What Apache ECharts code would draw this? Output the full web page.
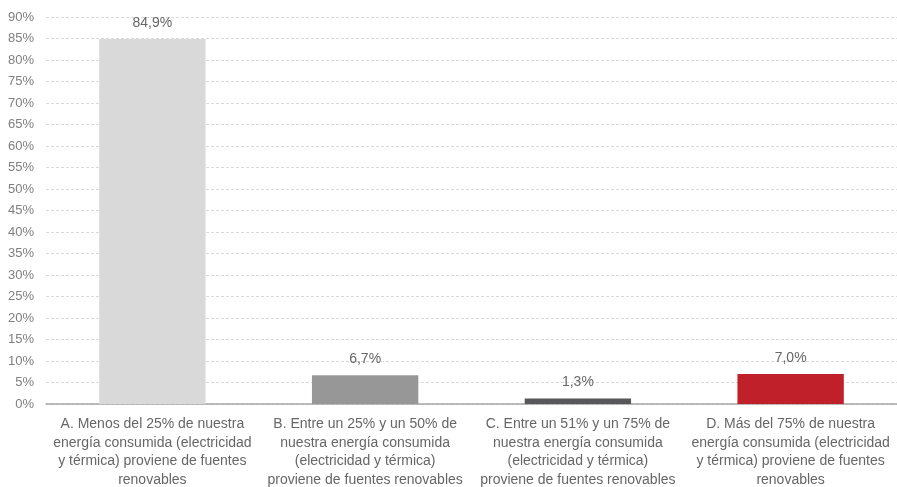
<!DOCTYPE html>
<html>
<head>
<meta charset="utf-8">
<script src="https://cdn.jsdelivr.net/npm/echarts@6/dist/echarts.min.js"></script>
<style>
  html, body { margin: 0; padding: 0; background: #fff; }
  #chart { width: 897px; height: 487px; }
</style>
</head>
<body>
<div id="chart"></div>
<script>
// Share of consumed energy coming from renewable sources
const categories = [
  'A. Menos del 25% de nuestra\nenergía consumida (electricidad\ny térmica) proviene de fuentes\nrenovables',
  'B. Entre un 25% y un 50% de\nnuestra energía consumida\n(electricidad y térmica)\nproviene de fuentes renovables',
  'C. Entre un 51% y un 75% de\nnuestra energía consumida\n(electricidad y térmica)\nproviene de fuentes renovables',
  'D. Más del 75% de nuestra\nenergía consumida (electricidad\ny térmica) proviene de fuentes\nrenovables'
];
const values = [84.9, 6.7, 1.3, 7.0];
const barColors = ['#d9d9d9', '#979797', '#58585a', '#c0202a'];

const fontFamily = '"Liberation Sans", Arial, sans-serif';

const chart = echarts.init(document.getElementById('chart'), null, { renderer: 'canvas' });
chart.setOption({
  animation: false,
  grid: { left: 46, right: 0, top: 17, bottom: 83, outerBoundsMode: 'none', containLabel: false },
  xAxis: {
    type: 'category',
    data: categories,
    axisTick: { show: false },
    axisLine: { lineStyle: { color: '#a6a6a6', width: 1.5 } },
    axisLabel: {
      interval: 0,
      color: '#666666',
      fontFamily: fontFamily,
      fontSize: 14,
      lineHeight: 18.5,
      margin: 11
    }
  },
  yAxis: {
    type: 'value',
    min: 0,
    max: 90,
    interval: 5,
    axisLine: { show: false },
    axisTick: { show: false },
    axisLabel: {
      formatter: '{value}%',
      color: '#7f7f7f',
      fontFamily: fontFamily,
      fontSize: 13,
      margin: 12
    },
    splitLine: { lineStyle: { color: '#d9d9d9', type: [3, 2], width: 1 } }
  },
  series: [{
    type: 'bar',
    barWidth: '50%',
    data: values.map((v, i) => ({ value: v, itemStyle: { color: barColors[i] } })),
    label: {
      show: true,
      position: 'top',
      distance: 9,
      color: '#666666',
      fontFamily: fontFamily,
      fontSize: 14,
      formatter: p => p.value.toFixed(1).replace('.', ',') + '%'
    }
  }]
});
</script>
</body>
</html>
